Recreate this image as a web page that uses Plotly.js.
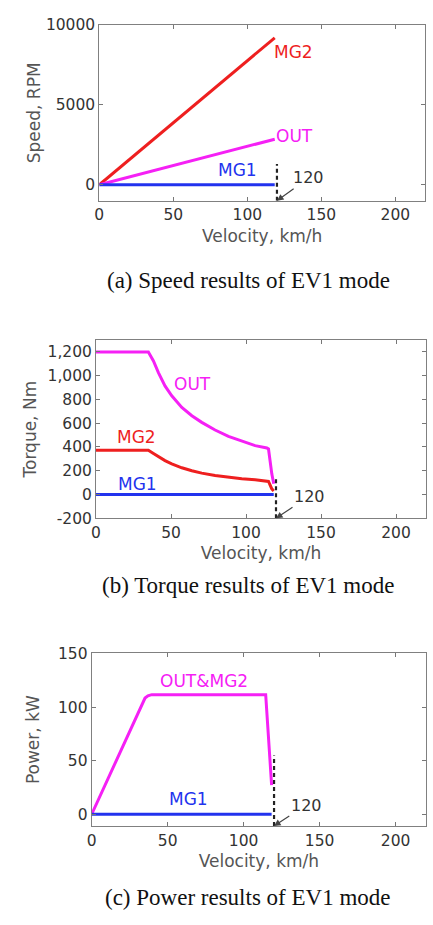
<!DOCTYPE html>
<html>
<head>
<meta charset="utf-8">
<script src="https://cdn.plot.ly/plotly-3.0.1.min.js"></script>
<style>
  html, body { margin: 0; padding: 0; background: #ffffff; }
  #chart { width: 433px; height: 925px; }
</style>
</head>
<body>
<div id="chart"></div>
<script>
// ---- (a) speed results, EV1 mode ----
const speedVelocity = [0, 118.5];
const speedMG2 = [0, 9200];
const speedOUT = [0, 2850];
const speedMG1 = [0, 0];

// ---- (b) torque results, EV1 mode ----
const torqueVelocity = [0, 34.9, 38.3, 41.6, 46.0, 50.5, 57.2, 63.9, 70.5, 79.4, 88.3, 97.2, 106.1, 113.9, 115, 117.2, 118.5];
const torqueOUT = [1200, 1200, 1124, 1026, 914, 831, 733, 663, 607, 543, 489, 447, 411, 392, 383, 174, 90];
const torqueMG2 = [372, 372, 345, 318, 285, 258, 225, 200, 180, 160, 145, 133, 124, 114, 110, 48, 30];
const torqueMG1Velocity = [0, 118.5];
const torqueMG1 = [0, 0];

// ---- (c) power results, EV1 mode ----
const powerVelocity = [0, 35.1, 37.0, 39.5, 114.5, 118.4];
const powerOUTandMG2 = [0, 108.7, 110.8, 111.8, 111.8, 27.2];
const powerMG1Velocity = [0, 118.4];
const powerMG1 = [0, 0];

// ---- maximum EV1 velocity marker ----
const maxVelocity = 120;
const markerTopSpeed = 1300;
const markerTopTorque = 131;
const markerTopPower = 55;

// ---- axis ticks ----
const velocityTicks = [0, 50, 100, 150, 200];
const speedTicks = [0, 5000, 10000];
const speedTickText = ['0', '5000', '10000'];
const torqueTicks = [-200, 0, 200, 400, 600, 800, 1000, 1200];
const torqueTickText = ['-200', '0', '200', '400', '600', '800', '1,000', '1,200'];
const powerTicks = [0, 50, 100, 150];
const powerTickText = ['0', '50', '100', '150'];

// ---- ranges ----
const velocityRange = [0, 220];
const speedRange = [-1000, 10000];
const torqueRange = [-200, 1300];
const powerRange = [-11, 150.5];

const RED = '#ee1f1f';
const MAGENTA = '#f520f5';
const BLUE = '#2233ee';
const TICK_FONT = { family: 'DejaVu Sans', size: 15.5, color: '#333333' };
const TITLE_FONT = { family: 'DejaVu Sans', size: 17, color: '#555555' };
const LABEL_SIZE = 17;

function curve(x, y, color, xa, ya) {
  return { x: x, y: y, xaxis: xa, yaxis: ya, type: 'scatter', mode: 'lines',
           line: { color: color, width: 3 },
           hoverinfo: 'skip', showlegend: false };
}
function marker(top, bottom, xa, ya) {
  return { x: [maxVelocity, maxVelocity], y: [bottom, top], xaxis: xa, yaxis: ya,
           type: 'scatter', mode: 'lines', line: { color: '#222222', width: 2.2, dash: '4px,3px' },
           hoverinfo: 'skip', showlegend: false };
}

const traces = [
  curve(speedVelocity, speedMG2, RED, 'x', 'y'),
  curve(speedVelocity, speedOUT, MAGENTA, 'x', 'y'),
  curve(speedVelocity, speedMG1, BLUE, 'x', 'y'),
  marker(markerTopSpeed, speedRange[0], 'x', 'y'),

  curve(torqueVelocity, torqueOUT, MAGENTA, 'x2', 'y2'),
  curve(torqueVelocity, torqueMG2, RED, 'x2', 'y2'),
  curve(torqueMG1Velocity, torqueMG1, BLUE, 'x2', 'y2'),
  marker(markerTopTorque, torqueRange[0], 'x2', 'y2'),

  curve(powerVelocity, powerOUTandMG2, MAGENTA, 'x3', 'y3'),
  curve(powerMG1Velocity, powerMG1, BLUE, 'x3', 'y3'),
  marker(markerTopPower, powerRange[0], 'x3', 'y3')
];

function xAxis(domain, anchor) {
  return {
    domain: domain, anchor: anchor, range: velocityRange,
    tickmode: 'array', tickvals: velocityTicks,
    ticks: 'inside', ticklen: 4, tickcolor: '#777777',
    showline: true, linecolor: '#808080', linewidth: 1, mirror: 'ticks',
    showgrid: false, zeroline: false, tickfont: TICK_FONT,
    title: { text: 'Velocity, km/h', font: TITLE_FONT, standoff: 6 }
  };
}
function yAxis(domain, anchor, range, vals, text, title, standoff) {
  return {
    domain: domain, anchor: anchor, range: range,
    tickmode: 'array', tickvals: vals, ticktext: text,
    ticks: 'inside', ticklen: 4, tickcolor: '#777777',
    showline: true, linecolor: '#808080', linewidth: 1, mirror: 'ticks',
    showgrid: false, zeroline: false, tickfont: TICK_FONT,
    title: { text: title, font: TITLE_FONT, standoff: standoff }
  };
}

function curveLabel(text, x, y, color, xa, ya) {
  return { text: text, x: x, y: y, xref: xa, yref: ya, showarrow: false,
           font: { family: 'DejaVu Sans', size: LABEL_SIZE, color: color } };
}
function velocityCallout(xa, ya, yBottom, ax, ay) {
  return { text: String(maxVelocity), x: maxVelocity, y: yBottom, xref: xa, yref: ya,
           showarrow: true, arrowhead: 2, arrowsize: 1.1, arrowwidth: 1.2, arrowcolor: '#444444',
           ax: ax, ay: ay, font: { family: 'DejaVu Sans', size: 16, color: '#333333' } };
}
function caption(text, yPix) {
  return { text: text, x: 248 / 433, y: 1 - yPix / 925, xref: 'paper', yref: 'paper',
           showarrow: false, xanchor: 'center', yanchor: 'middle',
           font: { family: 'Liberation Serif', size: 23, color: '#111111' } };
}

const layout = {
  width: 433, height: 925,
  margin: { l: 0, r: 0, t: 0, b: 0 },
  paper_bgcolor: '#ffffff', plot_bgcolor: '#ffffff',
  showlegend: false,
  xaxis: xAxis([99.3 / 433, 425 / 433], 'y'),
  yaxis: yAxis([1 - 200.7 / 925, 1 - 25 / 925], 'x', speedRange, speedTicks, speedTickText, 'Speed, RPM', 0),
  xaxis2: xAxis([96 / 433, 426 / 433], 'y2'),
  yaxis2: yAxis([1 - 518.3 / 925, 1 - 340 / 925], 'x2', torqueRange, torqueTicks, torqueTickText, 'Torque, Nm', 6),
  xaxis3: xAxis([91.7 / 433, 426 / 433], 'y3'),
  yaxis3: yAxis([1 - 826 / 925, 1 - 653.3 / 925], 'x3', powerRange, powerTicks, powerTickText, 'Power, kW', 14),
  annotations: [
    curveLabel('MG2', 131, 8300, RED, 'x', 'y'),
    curveLabel('OUT', 132, 3020, MAGENTA, 'x', 'y'),
    curveLabel('MG1', 93.6, 940, BLUE, 'x', 'y'),
    velocityCallout('x', 'y', speedRange[0], 32, -23),

    curveLabel('OUT', 64.5, 930, MAGENTA, 'x2', 'y2'),
    curveLabel('MG2', 26.7, 481, RED, 'x2', 'y2'),
    curveLabel('MG1', 27.6, 90, BLUE, 'x2', 'y2'),
    velocityCallout('x2', 'y2', torqueRange[0], 33, -22),

    curveLabel('OUT&MG2', 73.9, 125, MAGENTA, 'x3', 'y3'),
    curveLabel('MG1', 63.6, 14.7, BLUE, 'x3', 'y3'),
    velocityCallout('x3', 'y3', powerRange[0], 32, -21),

    caption('(a) Speed results of EV1 mode', 280),
    caption('(b) Torque results of EV1 mode', 585),
    caption('(c) Power results of EV1 mode', 897)
  ]
};

Plotly.newPlot('chart', traces, layout, { staticPlot: true, displayModeBar: false });
</script>
</body>
</html>
